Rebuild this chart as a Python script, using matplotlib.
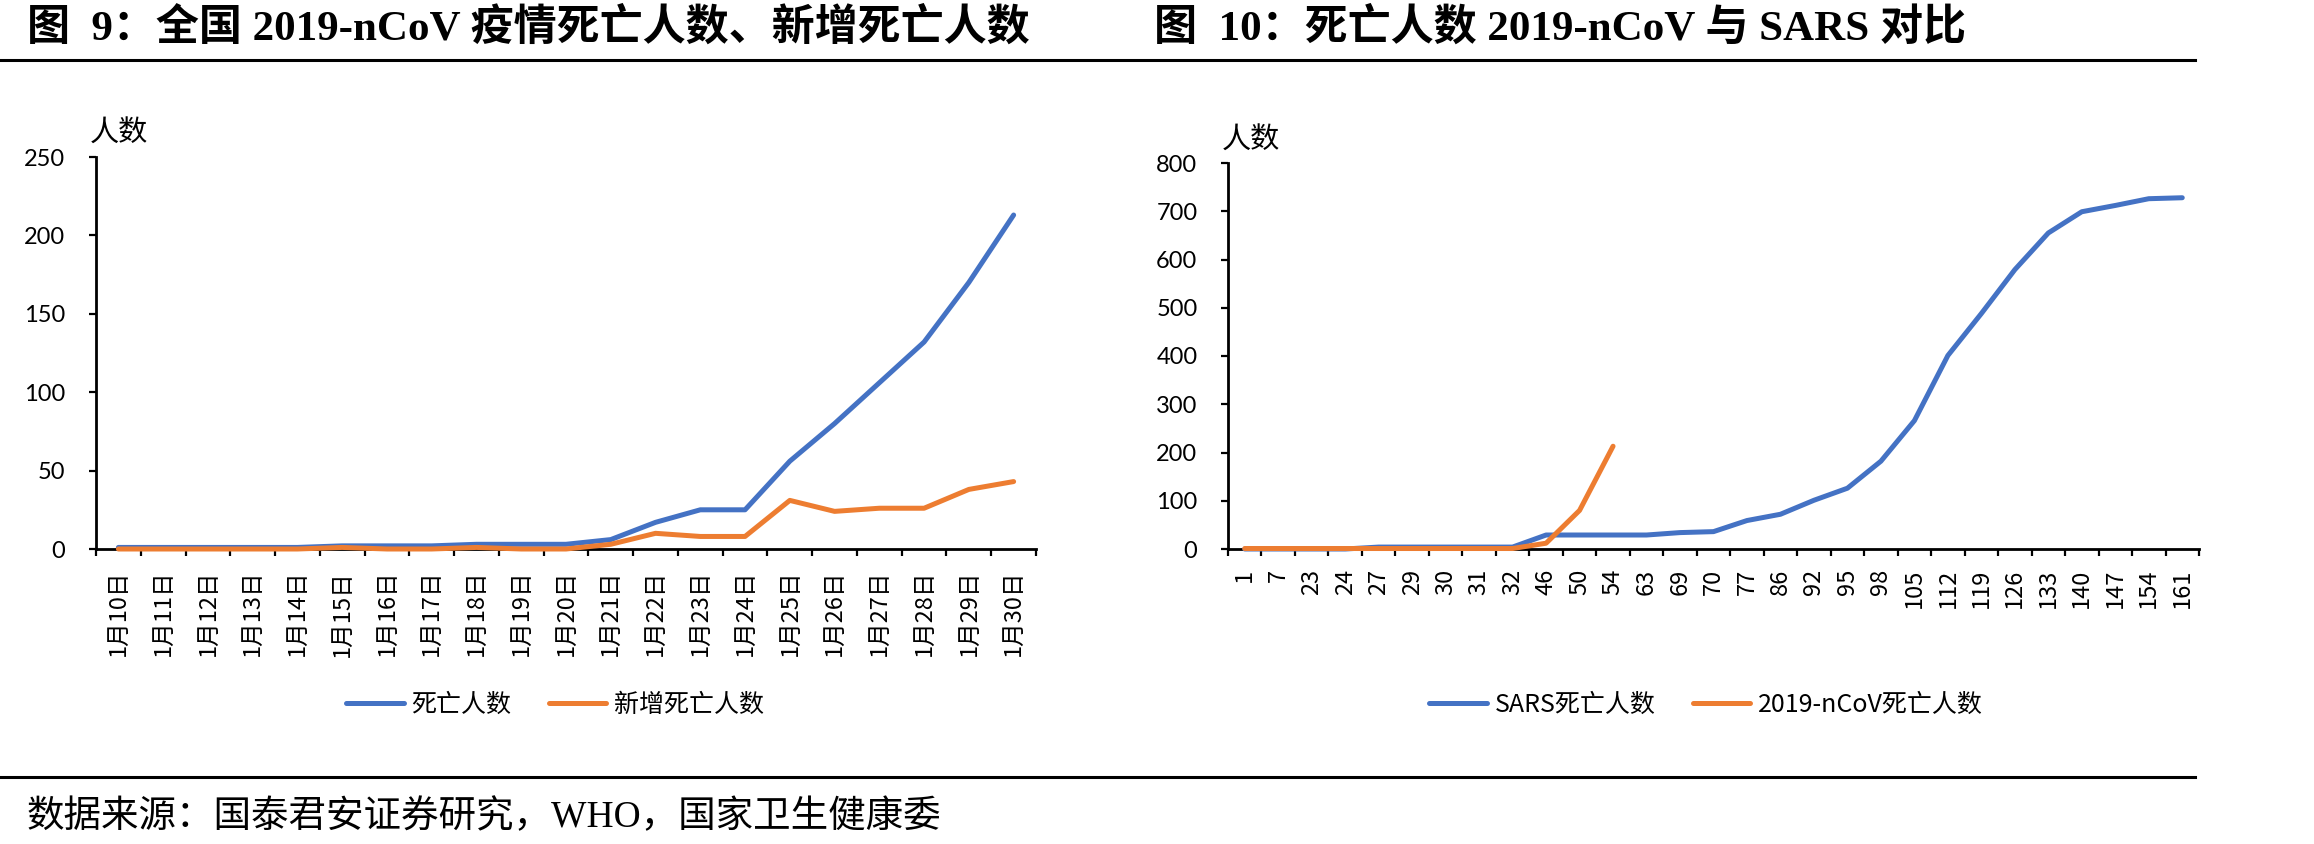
import numpy as np
import matplotlib
matplotlib.use('Agg')
import matplotlib.pyplot as plt
from matplotlib.lines import Line2D

# ---------------- data ----------------
dates = ['1月10日', '1月11日', '1月12日', '1月13日', '1月14日', '1月15日', '1月16日',
         '1月17日', '1月18日', '1月19日', '1月20日', '1月21日', '1月22日', '1月23日',
         '1月24日', '1月25日', '1月26日', '1月27日', '1月28日', '1月29日', '1月30日']
deaths = [1, 1, 1, 1, 1, 2, 2, 2, 3, 3, 3, 6, 17, 25, 25, 56, 80, 106, 132, 170, 213]
new_deaths = [0, 0, 0, 0, 0, 1, 0, 0, 1, 0, 0, 3, 10, 8, 8, 31, 24, 26, 26, 38, 43]

days = ['1', '7', '23', '24', '27', '29', '30', '31', '32', '46', '50', '54', '63', '69',
        '70', '77', '86', '92', '95', '98', '105', '112', '119', '126', '133', '140',
        '147', '154', '161']
sars_deaths = [0, 0, 0, 0, 4, 4, 4, 4, 4, 29, 29, 29, 29, 34, 36, 59, 72, 101, 126, 182,
               266, 401, 488, 579, 655, 699, 712, 726, 728]
ncov_deaths = [1, 1, 1, 1, 1, 1, 1, 1, 1, 12, 80, 213]

left_title = '图  9：全国 2019-nCoV 疫情死亡人数、新增死亡人数'
right_title = '图  10：死亡人数 2019-nCoV 与 SARS 对比'
left_legend = ['死亡人数', '新增死亡人数']
right_legend = ['SARS死亡人数', '2019-nCoV死亡人数']
source = '数据来源：国泰君安证券研究，WHO，国家卫生健康委'
ylabel = '人数'

# ---------------- style ----------------
W, H = 2314, 844
BLUE = '#4472C4'
ORANGE = '#ED7D31'
CJK = ['Noto Sans CJK SC', 'DejaVu Sans']
SERIF = ['Liberation Serif', 'Noto Sans CJK SC', 'DejaVu Sans']
NUM = ['Lato', 'DejaVu Sans']
LW = 3.6

fig = plt.figure(figsize=(W / 100, H / 100), dpi=100)


def fx(x):
    return x / W


def fy(y):
    return 1 - y / H


def make_axes(x0, x1, ytop, ybot):
    return fig.add_axes([fx(x0), fy(ybot), (x1 - x0) / W, (ybot - ytop) / H])


def setup(ax, labels, ymax, ystep, xfs, xpad):
    n = len(labels)
    x = np.arange(n)
    ax.set_xlim(-0.5, n - 0.5)
    ax.set_ylim(0, ymax)
    for s in ['top', 'right']:
        ax.spines[s].set_visible(False)
    for s in ['left', 'bottom']:
        ax.spines[s].set_linewidth(2.0)
        ax.spines[s].set_color('black')
    ax.set_xticks(x)
    ax.set_xticklabels(labels, rotation=90, fontsize=xfs, family=CJK,
                       va='top', ha='center')
    ax.set_xticks(np.arange(n + 1) - 0.5, minor=True)
    ax.tick_params(axis='x', which='major', length=0, pad=xpad)
    ax.tick_params(axis='x', which='minor', length=5, width=1.6,
                   direction='out', color='black')
    ax.set_yticks(np.arange(0, ymax + 1, ystep))
    ax.tick_params(axis='y', length=5, width=1.6, pad=17, labelsize=17,
                   color='black')
    for t in ax.get_yticklabels():
        t.set_family(NUM)
    ax.patch.set_alpha(0)


# ---------------- left chart ----------------
axL = make_axes(96, 1036, 157, 549)
setup(axL, dates, 250, 50, 17, 15)
xl = np.arange(len(dates))
l1, = axL.plot(xl, deaths, color=BLUE, lw=LW, solid_capstyle='round',
               solid_joinstyle='round', clip_on=False, zorder=3)
l2, = axL.plot(xl, new_deaths, color=ORANGE, lw=LW, solid_capstyle='round',
               solid_joinstyle='round', clip_on=False, zorder=4)
axL.legend([l1, l2], left_legend, loc='center',
           bbox_to_anchor=(fx(555), fy(705)), bbox_transform=fig.transFigure,
           ncol=2, frameon=False, prop=dict(family=CJK, size=18),
           handlelength=2.3, handletextpad=0.3, columnspacing=1.5)

# ---------------- right chart ----------------
axR = make_axes(1228, 2199, 163, 549)
setup(axR, days, 800, 100, 17, 14)
xr = np.arange(len(days))
r1, = axR.plot(xr, sars_deaths, color=BLUE, lw=LW, solid_capstyle='round',
               solid_joinstyle='round', clip_on=False, zorder=3)
r2, = axR.plot(xr[:len(ncov_deaths)], ncov_deaths, color=ORANGE, lw=LW,
               solid_capstyle='round', solid_joinstyle='round', clip_on=False,
               zorder=4)
axR.legend([r1, r2], right_legend, loc='center',
           bbox_to_anchor=(fx(1706), fy(705)), bbox_transform=fig.transFigure,
           ncol=2, frameon=False, prop=dict(family=CJK, size=18),
           handlelength=2.3, handletextpad=0.3, columnspacing=1.5)

# ---------------- texts and rules ----------------
fig.text(fx(27), fy(28), left_title, fontsize=31, fontweight='bold',
         family=SERIF, ha='left', va='center')
fig.text(fx(1154), fy(28), right_title, fontsize=31, fontweight='bold',
         family=SERIF, ha='left', va='center')
fig.add_artist(Line2D([0, fx(2195)], [fy(60), fy(60)], color='black', lw=2.2))
fig.add_artist(Line2D([0, fx(2195)], [fy(777), fy(777)], color='black', lw=2.2))
fig.text(fx(27), fy(817), source, fontsize=27, family=SERIF,
         ha='left', va='center')

fig.text(fx(90), fy(133), ylabel, fontsize=21, family=CJK, ha='left', va='center')
fig.text(fx(1222), fy(140), ylabel, fontsize=21, family=CJK, ha='left', va='center')

fig.savefig('out.png', dpi=100, facecolor='white')
